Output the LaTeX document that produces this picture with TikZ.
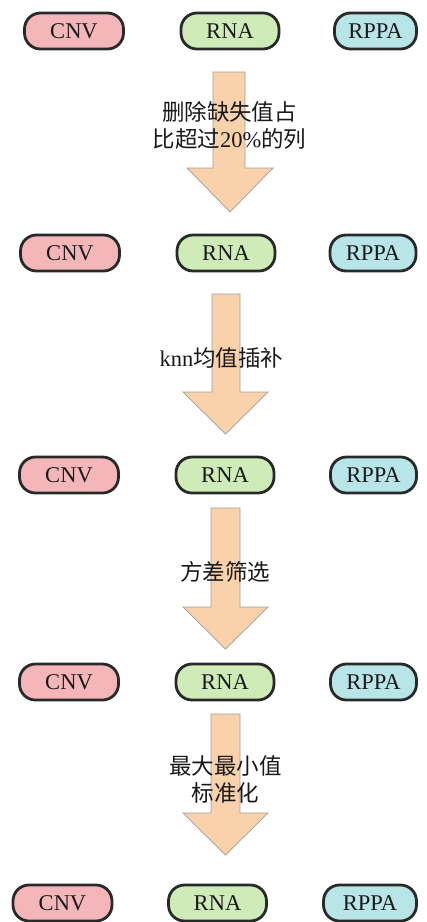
\documentclass[tikz,border=0pt]{standalone}
\usepackage{fontspec}
\setmainfont{Liberation Serif}
\newfontfamily\cjk{Noto Sans CJK SC}
\definecolor{cnvfill}{RGB}{244,182,184}
\definecolor{rnafill}{RGB}{207,236,184}
\definecolor{rppafill}{RGB}{183,229,232}
\definecolor{boxline}{RGB}{40,42,42}
\definecolor{arrowfill}{RGB}{249,209,170}
\definecolor{arrowline}{RGB}{160,158,155}
\definecolor{txt}{RGB}{25,25,25}
\tikzset{
  databox/.style={draw=boxline, line width=2.8pt, rounded corners=16pt,
    minimum height=36pt, inner sep=0pt, font=\fontsize{22.5}{26}\selectfont, text=txt},
  cnvbox/.style={databox, fill=cnvfill, minimum width=99pt},
  rnabox/.style={databox, fill=rnafill, minimum width=98pt},
  rppabox/.style={databox, fill=rppafill, minimum width=86pt},
  blockarrow/.style={fill=arrowfill, draw=arrowline, line width=0.7pt},
  steplabel/.style={align=center, text=txt, inner sep=0pt,
    font=\fontsize{22.5}{27}\selectfont}
}
\begin{document}
\begin{tikzpicture}[x=1pt,y=1pt]
\useasboundingbox (0,0) rectangle (427,-922);
% block arrows (drawn first, text over them)
\newcommand\myarrow[8]{% sl sr top hl hr hs tip tipx
  \draw[blockarrow] (#1,#3) -- (#2,#3) -- (#2,#6) -- (#5,#6) -- (#8,#7) -- (#4,#6) -- (#1,#6) -- cycle;}
\myarrow{213}{245}{-72}{187}{273}{-168}{-212}{230}
\myarrow{212}{240}{-294}{183}{268}{-392}{-434}{225.5}
\myarrow{211}{240}{-508}{183}{268}{-607}{-649}{225.5}
\myarrow{211}{240}{-714}{183}{268}{-813}{-855}{225.5}
% row 1
\node[cnvbox]  (c1) at (74,-31) {CNV};
\node[rnabox]  (r1) at (230,-31) {RNA};
\node[rppabox, minimum width=82pt] (p1) at (375.5,-31) {RPPA};
% row 2
\node[cnvbox]  (c2) at (70,-253) {CNV};
\node[rnabox]  (r2) at (226,-253) {RNA};
\node[rppabox] (p2) at (373,-253) {RPPA};
% row 3
\node[cnvbox]  (c3) at (69,-475) {CNV};
\node[rnabox]  (r3) at (225,-475) {RNA};
\node[rppabox] (p3) at (373.5,-475) {RPPA};
% row 4
\node[cnvbox]  (c4) at (69,-682) {CNV};
\node[rnabox]  (r4) at (225,-682) {RNA};
\node[rppabox] (p4) at (373.5,-682) {RPPA};
% row 5
\node[cnvbox]  (c5) at (62.5,-903) {CNV};
\node[rnabox]  (r5) at (217.5,-903) {RNA};
\node[rppabox, minimum width=93pt] (p5) at (370,-903) {RPPA};
% step labels
\node[steplabel] (s1) at (229.5,-125) {{\cjk 删除缺失值占}\\{\cjk 比超过}20\%{\cjk 的列}};
\node[steplabel] (s2) at (221.5,-358) {knn{\cjk 均值插补}};
\node[steplabel] (s3) at (225,-572) {{\cjk 方差筛选}};
\node[steplabel] (s4) at (225.5,-779) {{\cjk 最大最小值}\\{\cjk 标准化}};
\end{tikzpicture}
\end{document}
